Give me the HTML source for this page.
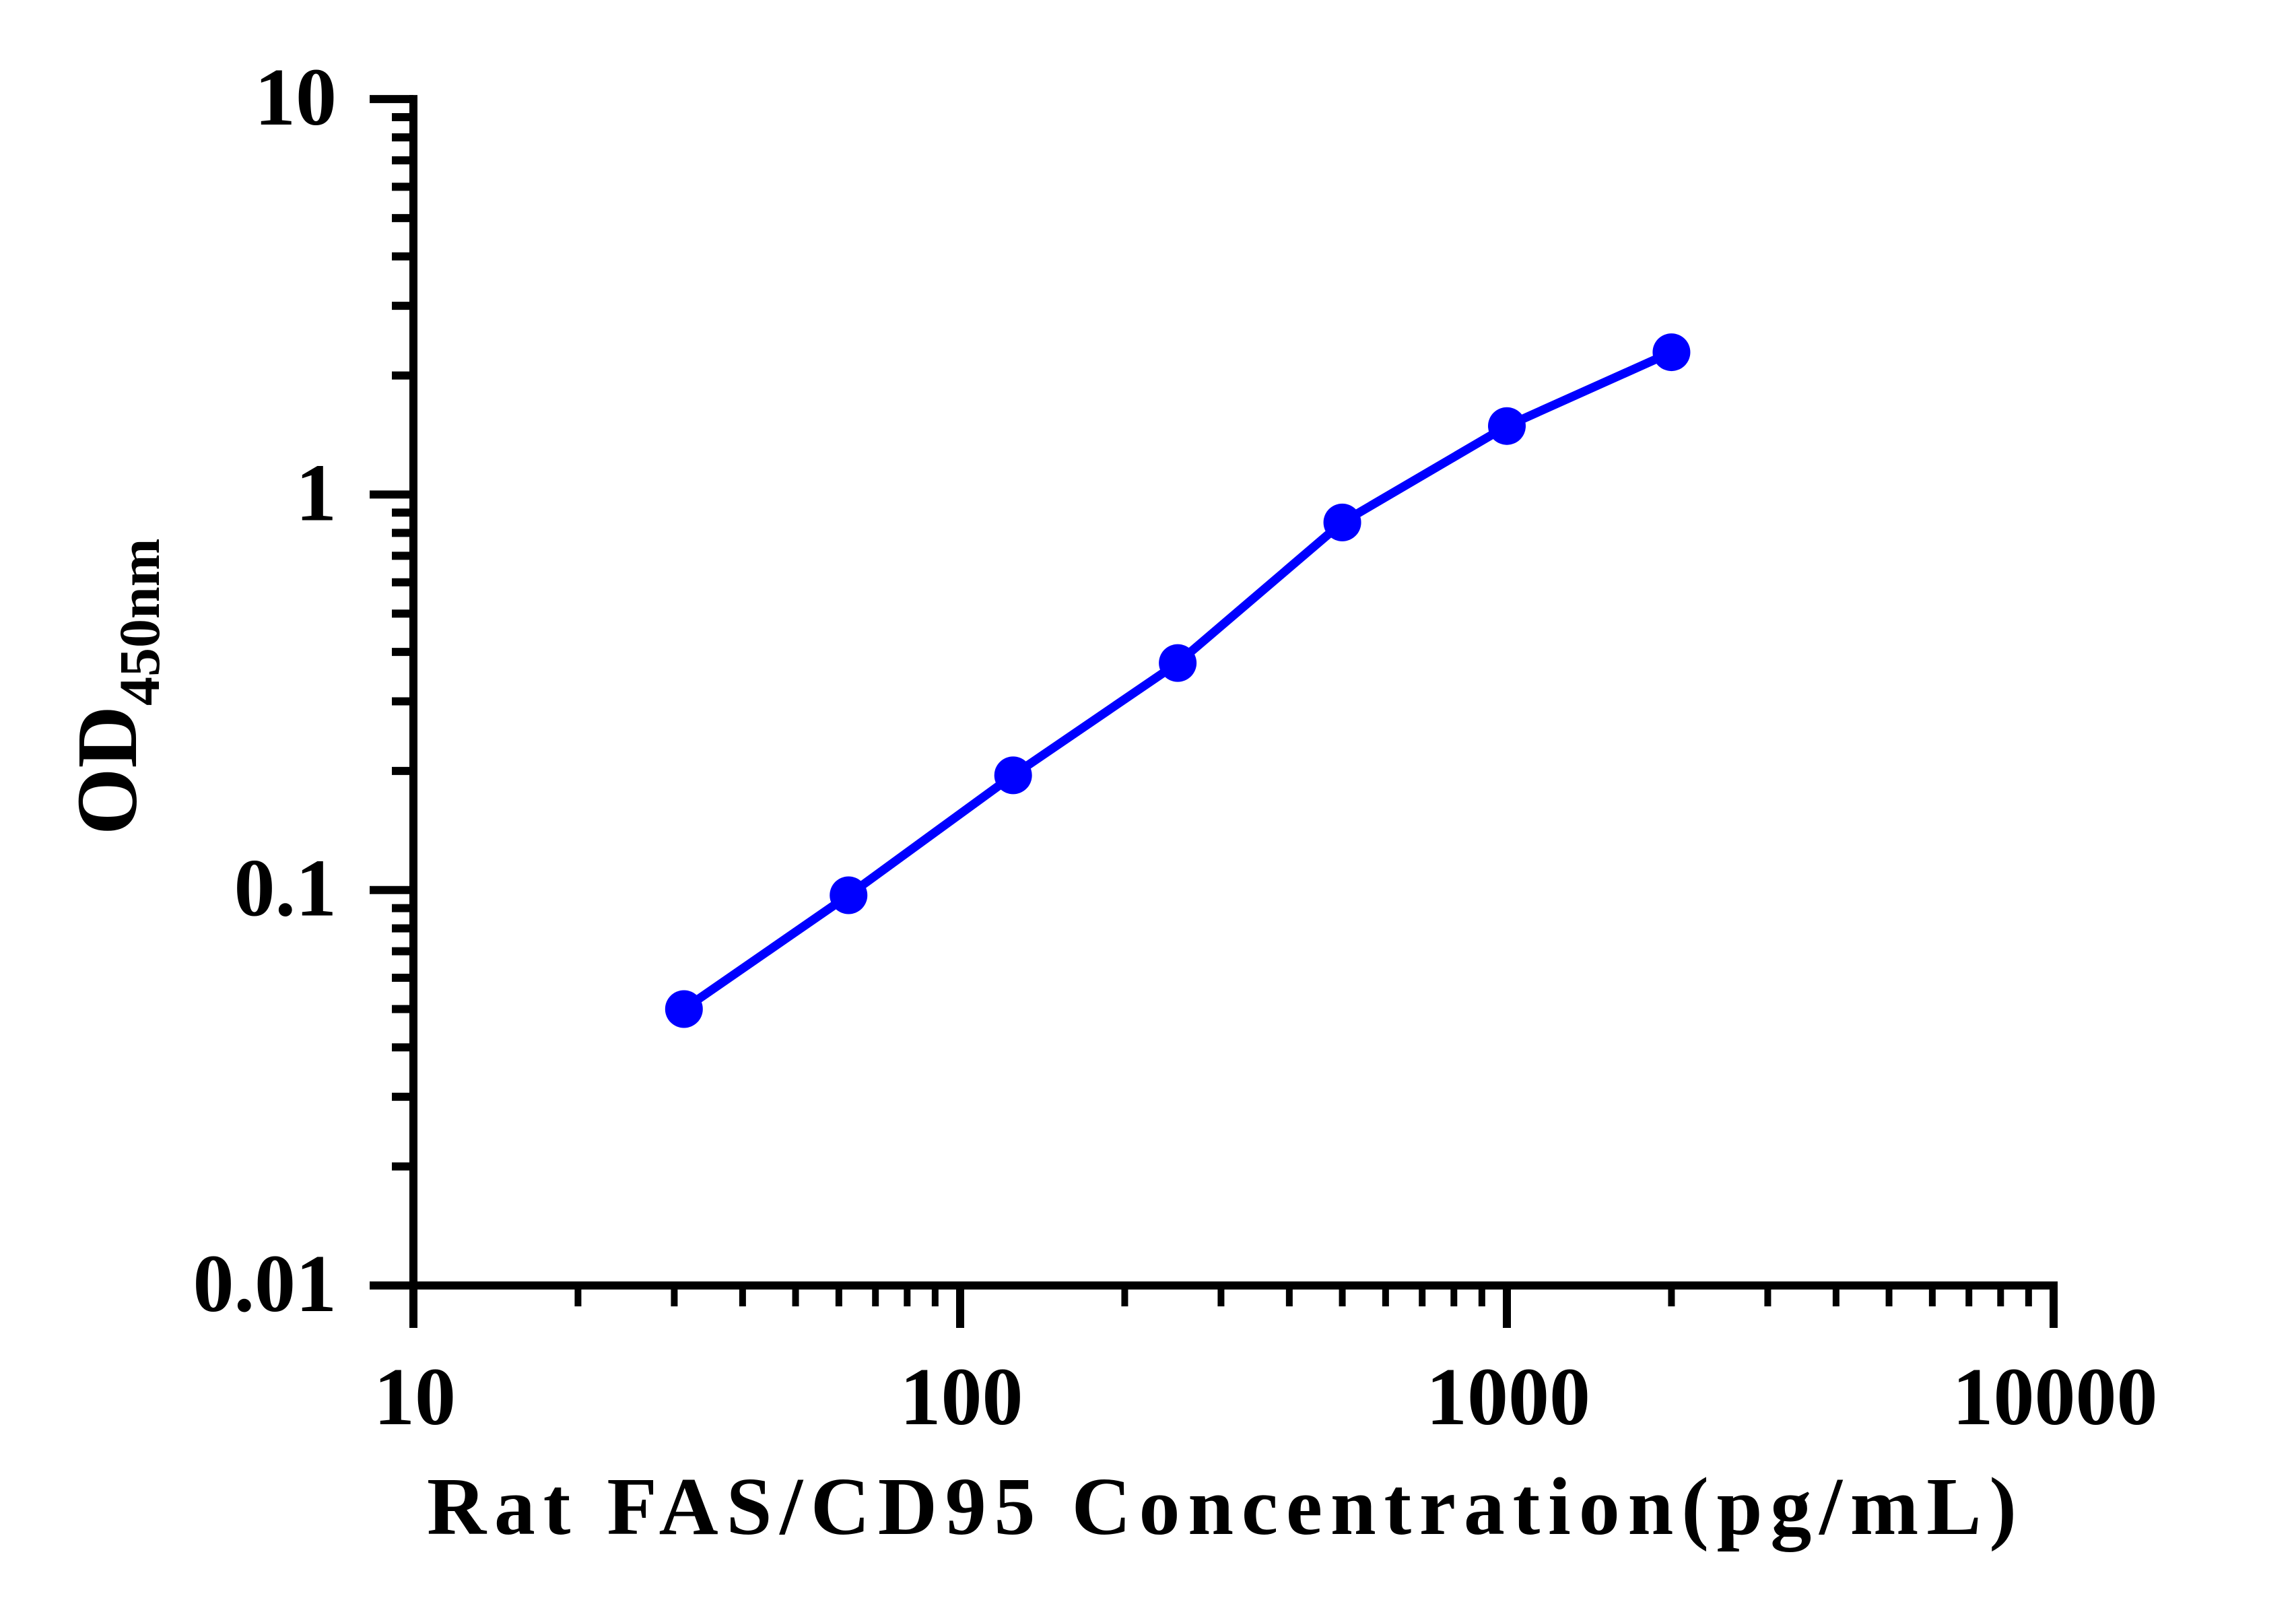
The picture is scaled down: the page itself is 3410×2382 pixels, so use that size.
<!DOCTYPE html>
<html><head><meta charset="utf-8"><style>
html,body{margin:0;padding:0;background:#fff;}
svg{display:block;}
text{font-family:"Liberation Serif",serif;font-weight:bold;fill:#000;}
</style></head><body>
<svg id="chart" width="3410" height="2382" viewBox="0 0 3410 2382" xmlns="http://www.w3.org/2000/svg">
<g id="axes"></g>
<g id="series"></g>
<text transform="translate(202,1240) rotate(-90)" font-size="128">OD<tspan font-size="86" dy="34">450nm</tspan></text>
<text x="634" y="2278" font-size="122" textLength="2361" lengthAdjust="spacing">Rat FAS/CD95 Concentration(pg/mL)</text>
</svg>
<script>
const concentrations = [31.25, 62.5, 125, 250, 500, 1000, 2000];
const odValues = [0.050, 0.097, 0.195, 0.375, 0.85, 1.49, 2.29];
const xTickValues = [10, 100, 1000, 10000];
const xTickLabels = ["10", "100", "1000", "10000"];
const yTickValues = [0.01, 0.1, 1, 10];
const yTickLabels = ["0.01", "0.1", "1", "10"];

const NS = "http://www.w3.org/2000/svg";
const X0 = 614, XDEC = 812, Y0 = 1909, YDEC = 587.3;
function xs(v){ return X0 + Math.log10(v/10)*XDEC; }
function ys(v){ return Y0 - Math.log10(v/0.01)*YDEC; }
function mk(tag, attrs, parent){
  const el = document.createElementNS(NS, tag);
  for (const k in attrs) el.setAttribute(k, attrs[k]);
  parent.appendChild(el);
  return el;
}
const axes = document.getElementById("axes");
const series = document.getElementById("series");

// axis lines
let l = mk("line", {x1:549, y1:Y0, x2:xs(10000)+6, y2:Y0, stroke:"#000", "stroke-width":12}, axes);


l = mk("line", {x1:X0, y1:ys(10)-6, x2:X0, y2:Y0+63, stroke:"#000", "stroke-width":12}, axes);



// x ticks
for (let d = 10; d < 10000; d *= 10) {
  for (let m = 2; m <= 9; m++) {
    const t = mk("line", {x1:xs(d*m), y1:Y0, x2:xs(d*m), y2:Y0+31, stroke:"#000", "stroke-width":10}, axes);
    
    
  }
}
xTickValues.forEach((v, i) => {
  const t = mk("line", {x1:xs(v), y1:Y0, x2:xs(v), y2:Y0+63, stroke:"#000", "stroke-width":12}, axes);
  
  
  const tx = mk("text", {x:xs(v)+2, y:2115, "font-size":122, "text-anchor":"middle"}, axes);
  tx.textContent = xTickLabels[i];
  
  
});

// y ticks
for (let d = 0.01; d < 9; d *= 10) {
  for (let m = 2; m <= 9; m++) {
    const t = mk("line", {x1:X0, y1:ys(d*m), x2:X0-32, y2:ys(d*m), stroke:"#000", "stroke-width":12}, axes);
    
    
  }
}
yTickValues.forEach((v, i) => {
  const t = mk("line", {x1:X0, y1:ys(v), x2:549, y2:ys(v), stroke:"#000", "stroke-width":12}, axes);
  
  
  const tx = mk("text", {x:500, y:ys(v)+38, "font-size":122, "text-anchor":"end"}, axes);
  tx.textContent = yTickLabels[i];
  
  
});

// series line
const pts = concentrations.map((c, i) => xs(c) + "," + ys(odValues[i])).join(" ");
const pl = mk("polyline", {points:pts, fill:"none", stroke:"#0000ff", "stroke-width":13, "stroke-linejoin":"round"}, series);


concentrations.forEach((c, i) => {
  const p = mk("circle", {cx:xs(c), cy:ys(odValues[i]), r:28, fill:"#0000ff"}, series);
  
  
});
</script>
</body></html>
